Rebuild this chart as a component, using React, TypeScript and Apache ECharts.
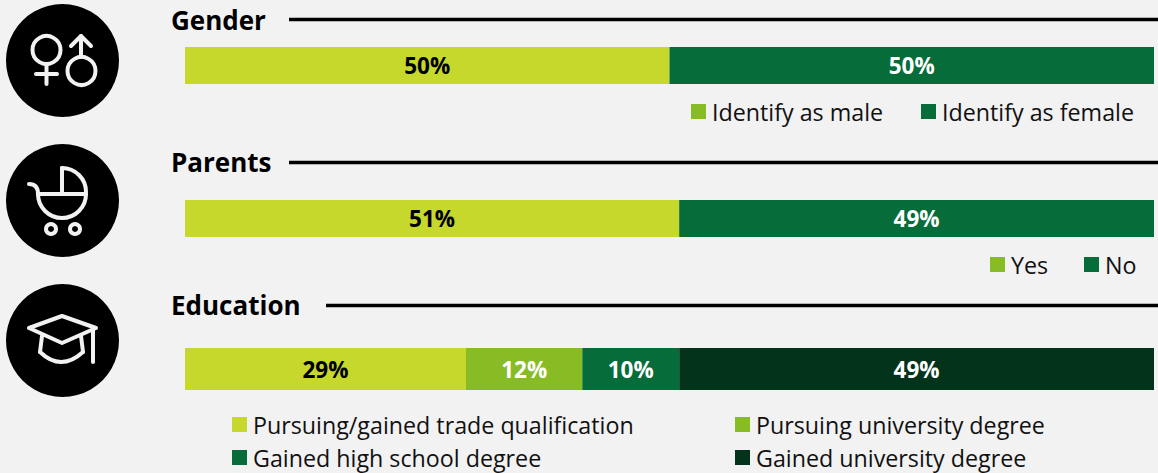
import React, { useEffect, useRef } from "react";
import * as echarts from "echarts";

const genderNames = ["Identify as male", "Identify as female"];
const genderValues = [50, 50];
const parentNames = ["Yes", "No"];
const parentValues = [51, 49];
const educationNames = [
  "Pursuing/gained trade qualification",
  "Pursuing university degree",
  "Gained high school degree",
  "Gained university degree",
];
const educationValues = [29, 12, 10, 49];
const groupTitles = ["Gender", "Parents", "Education"];

const LIME = "#c5d82b";
const MID = "#88bc24";
const GREEN = "#066c3a";
const DARK = "#04331b";
const FONT = "'Open Sans', 'Noto Sans', sans-serif";

function barSeries(names: string[], values: number[], colors: string[], grid: number, labelColors: string[]) {
  return names.map((name, i) => ({
    type: "bar",
    name,
    stack: "g" + grid,
    xAxisIndex: grid,
    yAxisIndex: grid,
    barWidth: "100%",
    data: [values[i]],
    itemStyle: { color: colors[i] },
    label: {
      show: true,
      position: "inside",
      formatter: "{c}%",
      color: labelColors[i],
      fontFamily: FONT,
      fontWeight: "bold",
      fontSize: 22.5,
    },
  }));
}

function legendItem(name: string, color: string, left: number, top: number) {
  return {
    left,
    top,
    padding: 0,
    selectedMode: false,
    icon: "rect",
    itemWidth: 15,
    itemHeight: 15,
    itemGap: 0,
    data: [{ name, itemStyle: { color } }],
    textStyle: { fontFamily: FONT, fontSize: 23.25, color: "#111", padding: [0, 0, 0, 1] },
  };
}

const stroke = { stroke: "#f2f2f2", lineWidth: 4, fill: "none", lineCap: "round", lineJoin: "round" };

function iconGraphics() {
  const line = (x1: number, y1: number, x2: number, y2: number) => ({ type: "line", shape: { x1, y1, x2, y2 }, style: stroke });
  const poly = (points: number[][]) => ({ type: "polyline", shape: { points }, style: stroke });
  const ring = (cx: number, cy: number, r: number) => ({ type: "circle", shape: { cx, cy, r }, style: stroke });
  const disc = (cx: number, cy: number) => ({ type: "circle", shape: { cx, cy, r: 56.5 }, style: { fill: "#000" } });
  const curve = (x1: number, y1: number, cpx1: number, cpy1: number, x2: number, y2: number) => ({
    type: "bezierCurve",
    shape: { x1, y1, cpx1, cpy1, x2, y2 },
    style: stroke,
  });
  const arc = (cx: number, cy: number, r: number, startAngle: number, endAngle: number) => ({
    type: "arc",
    shape: { cx, cy, r, startAngle, endAngle, clockwise: true },
    style: stroke,
  });
  return [
    disc(62.5, 60.5),
    ring(46.5, 50, 14),
    line(46.5, 65, 46.5, 84),
    line(36, 74, 57, 74),
    ring(81.5, 71, 14),
    line(81, 57, 81, 36),
    poly([[71, 46], [81, 36], [91, 46]]),

    disc(62.5, 200.5),
    line(38, 194, 86, 194),
    arc(62, 194, 24, 0, Math.PI),
    curve(29, 184, 38, 184, 38, 194),
    poly([[62, 192], [62, 168]]),
    arc(62, 192, 24, -Math.PI / 2, 0),
    { type: "circle", shape: { cx: 51, cy: 229, r: 5 }, style: stroke },
    { type: "circle", shape: { cx: 75, cy: 229, r: 5 }, style: stroke },

    disc(62.5, 340.5),
    poly([[29, 328], [62, 316], [96, 328], [62, 343], [29, 328]]),
    line(42, 336, 40, 352),
    line(81, 336, 83, 352),
    curve(40, 352, 61, 372, 83, 352),
    line(93, 330, 93, 362),
  ];
}

function titleGraphics() {
  const tops = [20, 162, 305];
  const lines = [
    [289, 19.5],
    [289, 162.5],
    [326, 305.5],
  ];
  return groupTitles.flatMap((t, i) => [
    {
      type: "text",
      x: 171,
      y: tops[i],
      style: { text: t, fontFamily: FONT, fontSize: 26, fontWeight: "bold", fill: "#000", textVerticalAlign: "middle" },
    },
    {
      type: "line",
      shape: { x1: lines[i][0], y1: lines[i][1], x2: 1158, y2: lines[i][1] },
      style: { stroke: "#000", lineWidth: 3.5 },
    },
  ]);
}

export default function App() {
  const ref = useRef<HTMLDivElement>(null);
  useEffect(() => {
    document.body.style.margin = "0";
    const chart = echarts.init(ref.current!, undefined, { renderer: "svg" });
    const grids = [
      { left: 185, width: 969, top: 47, height: 37 },
      { left: 185, width: 969, top: 200, height: 37 },
      { left: 185, width: 969, top: 348, height: 42 },
    ];
    chart.setOption({
      animation: false,
      backgroundColor: "#f2f2f2",
      grid: grids,
      xAxis: grids.map((_, i) => ({ type: "value", gridIndex: i, min: 0, max: 100, show: false })),
      yAxis: groupTitles.map((t, i) => ({ type: "category", gridIndex: i, data: [t], show: false })),
      legend: [
        legendItem(genderNames[0], MID, 691, 100),
        legendItem(genderNames[1], GREEN, 921, 100),
        legendItem(parentNames[0], MID, 990, 253),
        legendItem(parentNames[1], GREEN, 1084, 253),
        legendItem(educationNames[0], LIME, 232, 413),
        legendItem(educationNames[1], MID, 735, 413),
        legendItem(educationNames[2], GREEN, 232, 446),
        legendItem(educationNames[3], DARK, 735, 446),
      ],
      series: [
        ...barSeries(genderNames, genderValues, [LIME, GREEN], 0, ["#000", "#fff"]),
        ...barSeries(parentNames, parentValues, [LIME, GREEN], 1, ["#000", "#fff"]),
        ...barSeries(educationNames, educationValues, [LIME, MID, GREEN, DARK], 2, ["#000", "#fff", "#fff", "#fff"]),
      ],
      graphic: { elements: [...iconGraphics(), ...titleGraphics()] },
    });
    return () => chart.dispose();
  }, []);
  return <div ref={ref} style={{ width: 1158, height: 473 }} />;
}
